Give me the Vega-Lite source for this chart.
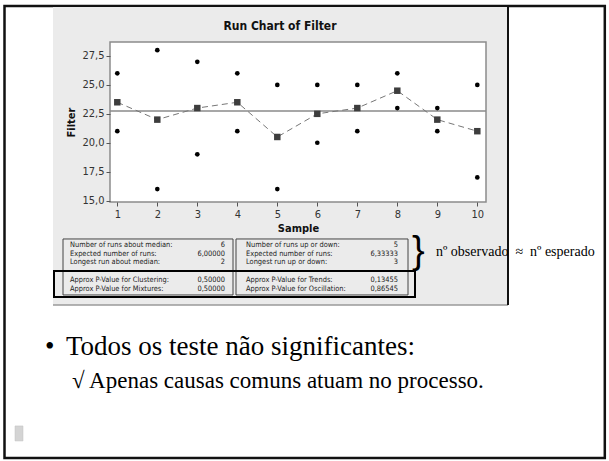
{
  "$schema": "https://vega.github.io/schema/vega-lite/v6.json",
  "autosize": "none",
  "width": 376,
  "height": 160,
  "padding": {"left": 110, "top": 42, "right": 123, "bottom": 259},
  "background": "white",
  "config": {
    "view": {"stroke": null},
    "axis": {"domain": false, "grid": false, "tickColor": "#555555", "tickSize": 4, "labelFont": "DejaVu Sans Condensed", "labelFontSize": 11, "labelColor": "#333333", "titleFont": "DejaVu Sans Condensed", "titleFontSize": 11, "titleFontWeight": "bold", "titleColor": "#111111", "labelOverlap": false}
  },
  "datasets": {
    "filter": [
      {"Sample": 1, "Filter": 26}, {"Sample": 1, "Filter": 21},
      {"Sample": 2, "Filter": 28}, {"Sample": 2, "Filter": 16},
      {"Sample": 3, "Filter": 27}, {"Sample": 3, "Filter": 19},
      {"Sample": 4, "Filter": 26}, {"Sample": 4, "Filter": 21},
      {"Sample": 5, "Filter": 25}, {"Sample": 5, "Filter": 16},
      {"Sample": 6, "Filter": 25}, {"Sample": 6, "Filter": 20},
      {"Sample": 7, "Filter": 25}, {"Sample": 7, "Filter": 21},
      {"Sample": 8, "Filter": 26}, {"Sample": 8, "Filter": 23},
      {"Sample": 9, "Filter": 23}, {"Sample": 9, "Filter": 21},
      {"Sample": 10, "Filter": 25}, {"Sample": 10, "Filter": 17}
    ],
    "means": [
      {"Sample": 1, "Mean": 23.5}, {"Sample": 2, "Mean": 22}, {"Sample": 3, "Mean": 23},
      {"Sample": 4, "Mean": 23.5}, {"Sample": 5, "Mean": 20.5}, {"Sample": 6, "Mean": 22.5},
      {"Sample": 7, "Mean": 23}, {"Sample": 8, "Mean": 24.5}, {"Sample": 9, "Mean": 22},
      {"Sample": 10, "Mean": 21}
    ],
    "table": [
      {"section": "runs", "box": 1, "row": 1, "label": "Number of runs about median:", "value": "6"},
      {"section": "runs", "box": 1, "row": 2, "label": "Expected number of runs:", "value": "6,00000"},
      {"section": "runs", "box": 1, "row": 3, "label": "Longest run about median:", "value": "2"},
      {"section": "runs", "box": 2, "row": 1, "label": "Number of runs up or down:", "value": "5"},
      {"section": "runs", "box": 2, "row": 2, "label": "Expected number of runs:", "value": "6,33333"},
      {"section": "runs", "box": 2, "row": 3, "label": "Longest run up or down:", "value": "3"},
      {"section": "pvalues", "box": 1, "row": 1, "label": "Approx P-Value for Clustering:", "value": "0,50000"},
      {"section": "pvalues", "box": 1, "row": 2, "label": "Approx P-Value for Mixtures:", "value": "0,50000"},
      {"section": "pvalues", "box": 2, "row": 1, "label": "Approx P-Value for Trends:", "value": "0,13455"},
      {"section": "pvalues", "box": 2, "row": 2, "label": "Approx P-Value for Oscillation:", "value": "0,86545"}
    ]
  },
  "layer": [
    {
      "layer": [
        {
          "data": {"values": [{}]},
          "mark": {"type": "rect", "fill": null, "stroke": "#111111", "strokeWidth": 2.5},
          "encoding": {
            "x": {"datum": -1.82, "type": "quantitative", "scale": {"domain": [0.8175, 10.2175]}, "axis": {"values": [1, 2, 3, 4, 5, 6, 7, 8, 9, 10], "format": "d", "labelPadding": 2, "titlePadding": 3, "title": "Sample", "zindex": 2, "labelOverlap": false}},
            "x2": {"datum": 13.1875},
            "y": {"datum": 31.82, "type": "quantitative", "scale": {"domain": [14.879, 28.71]}, "axis": {"values": [15, 17.5, 20, 22.5, 25, 27.5], "labelExpr": "replace(format(datum.value, '.1f'), '.', ',')", "labelPadding": 2, "titlePadding": 5, "title": "Filter", "zindex": 2, "labelOverlap": false}},
            "y2": {"datum": -7.245}
          }
        },
        {
          "data": {"values": [{}]},
          "mark": {"type": "rect", "fill": "#ebebeb"},
          "encoding": {
            "x": {"datum": -0.6075, "type": "quantitative", "scale": {"domain": [0.8175, 10.2175]}, "axis": {"values": [1, 2, 3, 4, 5, 6, 7, 8, 9, 10], "format": "d", "labelPadding": 2, "titlePadding": 3, "title": "Sample", "zindex": 2, "labelOverlap": false}},
            "x2": {"datum": 10.7675},
            "y": {"datum": 31.735, "type": "quantitative", "scale": {"domain": [14.879, 28.71]}, "axis": {"values": [15, 17.5, 20, 22.5, 25, 27.5], "labelExpr": "replace(format(datum.value, '.1f'), '.', ',')", "labelPadding": 2, "titlePadding": 5, "title": "Filter", "zindex": 2, "labelOverlap": false}},
            "y2": {"datum": 5.979}
          }
        },
        {
          "data": {"values": [{}]},
          "mark": {"type": "rule", "color": "#9a9a9a", "strokeWidth": 1.5},
          "encoding": {
            "x": {"datum": -0.6075, "type": "quantitative", "scale": {"domain": [0.8175, 10.2175]}, "axis": {"values": [1, 2, 3, 4, 5, 6, 7, 8, 9, 10], "format": "d", "labelPadding": 2, "titlePadding": 3, "title": "Sample", "zindex": 2, "labelOverlap": false}},
            "x2": {"datum": 10.7675},
            "y": {"datum": 5.979, "type": "quantitative", "scale": {"domain": [14.879, 28.71]}, "axis": {"values": [15, 17.5, 20, 22.5, 25, 27.5], "labelExpr": "replace(format(datum.value, '.1f'), '.', ',')", "labelPadding": 2, "titlePadding": 5, "title": "Filter", "zindex": 2, "labelOverlap": false}}
          }
        },
        {
          "data": {"values": [{}]},
          "mark": {"type": "rule", "color": "#111111", "strokeWidth": 2},
          "encoding": {
            "x": {"datum": 10.7675, "type": "quantitative", "scale": {"domain": [0.8175, 10.2175]}, "axis": {"values": [1, 2, 3, 4, 5, 6, 7, 8, 9, 10], "format": "d", "labelPadding": 2, "titlePadding": 3, "title": "Sample", "zindex": 2, "labelOverlap": false}},
            "y": {"datum": 31.735, "type": "quantitative", "scale": {"domain": [14.879, 28.71]}, "axis": {"values": [15, 17.5, 20, 22.5, 25, 27.5], "labelExpr": "replace(format(datum.value, '.1f'), '.', ',')", "labelPadding": 2, "titlePadding": 5, "title": "Filter", "zindex": 2, "labelOverlap": false}},
            "y2": {"datum": 5.979}
          }
        },
        {
          "data": {"values": [{}]},
          "mark": {"type": "rect", "fill": "white", "stroke": "#8c8c8c", "strokeWidth": 1.5},
          "encoding": {
            "x": {"datum": 0.8175, "type": "quantitative", "scale": {"domain": [0.8175, 10.2175]}, "axis": {"values": [1, 2, 3, 4, 5, 6, 7, 8, 9, 10], "format": "d", "labelPadding": 2, "titlePadding": 3, "title": "Sample", "zindex": 2, "labelOverlap": false}},
            "x2": {"datum": 10.2175},
            "y": {"datum": 14.879, "type": "quantitative", "scale": {"domain": [14.879, 28.71]}, "axis": {"values": [15, 17.5, 20, 22.5, 25, 27.5], "labelExpr": "replace(format(datum.value, '.1f'), '.', ',')", "labelPadding": 2, "titlePadding": 5, "title": "Filter", "zindex": 2, "labelOverlap": false}},
            "y2": {"datum": 28.71}
          }
        },
        {
          "data": {"values": [{}]},
          "mark": {"type": "rule", "color": "#8a8a8a", "strokeWidth": 1.5},
          "encoding": {
            "y": {"datum": 22.75, "type": "quantitative", "scale": {"domain": [14.879, 28.71]}, "axis": {"values": [15, 17.5, 20, 22.5, 25, 27.5], "labelExpr": "replace(format(datum.value, '.1f'), '.', ',')", "labelPadding": 2, "titlePadding": 5, "title": "Filter", "zindex": 2, "labelOverlap": false}}
          }
        },
        {
          "data": {"name": "means"},
          "mark": {"type": "line", "color": "#777777", "strokeWidth": 1, "strokeDash": [6, 4]},
          "encoding": {
            "x": {"field": "Sample", "type": "quantitative", "scale": {"domain": [0.8175, 10.2175]}, "axis": {"values": [1, 2, 3, 4, 5, 6, 7, 8, 9, 10], "format": "d", "labelPadding": 2, "titlePadding": 3, "title": "Sample", "zindex": 2, "labelOverlap": false}},
            "y": {"field": "Mean", "type": "quantitative", "scale": {"domain": [14.879, 28.71]}, "axis": {"values": [15, 17.5, 20, 22.5, 25, 27.5], "labelExpr": "replace(format(datum.value, '.1f'), '.', ',')", "labelPadding": 2, "titlePadding": 5, "title": "Filter", "zindex": 2, "labelOverlap": false}}
          }
        },
        {
          "data": {"name": "means"},
          "mark": {"type": "square", "color": "#3d3d3d", "opacity": 1, "size": 42},
          "encoding": {
            "x": {"field": "Sample", "type": "quantitative", "scale": {"domain": [0.8175, 10.2175]}, "axis": {"values": [1, 2, 3, 4, 5, 6, 7, 8, 9, 10], "format": "d", "labelPadding": 2, "titlePadding": 3, "title": "Sample", "zindex": 2, "labelOverlap": false}},
            "y": {"field": "Mean", "type": "quantitative", "scale": {"domain": [14.879, 28.71]}, "axis": {"values": [15, 17.5, 20, 22.5, 25, 27.5], "labelExpr": "replace(format(datum.value, '.1f'), '.', ',')", "labelPadding": 2, "titlePadding": 5, "title": "Filter", "zindex": 2, "labelOverlap": false}}
          }
        },
        {
          "data": {"name": "filter"},
          "mark": {"type": "circle", "color": "#000000", "opacity": 1, "size": 22},
          "encoding": {
            "x": {"field": "Sample", "type": "quantitative", "scale": {"domain": [0.8175, 10.2175]}, "axis": {"values": [1, 2, 3, 4, 5, 6, 7, 8, 9, 10], "format": "d", "labelPadding": 2, "titlePadding": 3, "title": "Sample", "zindex": 2, "labelOverlap": false}},
            "y": {"field": "Filter", "type": "quantitative", "scale": {"domain": [14.879, 28.71]}, "axis": {"values": [15, 17.5, 20, 22.5, 25, 27.5], "labelExpr": "replace(format(datum.value, '.1f'), '.', ',')", "labelPadding": 2, "titlePadding": 5, "title": "Filter", "zindex": 2, "labelOverlap": false}}
          }
        },
        {
          "data": {"values": [{"t": "Run Chart of Filter"}]},
          "mark": {"type": "text", "font": "DejaVu Sans Condensed", "fontSize": 12, "fontWeight": "bold", "color": "#111111", "align": "center", "baseline": "middle"},
          "encoding": {
            "x": {"datum": 5.0675, "type": "quantitative", "scale": {"domain": [0.8175, 10.2175]}, "axis": {"values": [1, 2, 3, 4, 5, 6, 7, 8, 9, 10], "format": "d", "labelPadding": 2, "titlePadding": 3, "title": "Sample", "zindex": 2, "labelOverlap": false}},
            "y": {"datum": 30.093, "type": "quantitative", "scale": {"domain": [14.879, 28.71]}, "axis": {"values": [15, 17.5, 20, 22.5, 25, 27.5], "labelExpr": "replace(format(datum.value, '.1f'), '.', ',')", "labelPadding": 2, "titlePadding": 5, "title": "Filter", "zindex": 2, "labelOverlap": false}},
            "text": {"field": "t"}
          }
        },
        {
          "data": {"values": [{}]},
          "mark": {"type": "rect", "fill": null, "stroke": "#444444", "strokeWidth": 1},
          "encoding": {
            "x": {"datum": -0.3575, "type": "quantitative", "scale": {"domain": [0.8175, 10.2175]}, "axis": {"values": [1, 2, 3, 4, 5, 6, 7, 8, 9, 10], "format": "d", "labelPadding": 2, "titlePadding": 3, "title": "Sample", "zindex": 2, "labelOverlap": false}},
            "x2": {"datum": 3.8925},
            "y": {"datum": 11.683, "type": "quantitative", "scale": {"domain": [14.879, 28.71]}, "axis": {"values": [15, 17.5, 20, 22.5, 25, 27.5], "labelExpr": "replace(format(datum.value, '.1f'), '.', ',')", "labelPadding": 2, "titlePadding": 5, "title": "Filter", "zindex": 2, "labelOverlap": false}},
            "y2": {"datum": 6.843}
          }
        },
        {
          "data": {"values": [{}]},
          "mark": {"type": "rect", "fill": null, "stroke": "#444444", "strokeWidth": 1},
          "encoding": {
            "x": {"datum": 3.9675, "type": "quantitative", "scale": {"domain": [0.8175, 10.2175]}, "axis": {"values": [1, 2, 3, 4, 5, 6, 7, 8, 9, 10], "format": "d", "labelPadding": 2, "titlePadding": 3, "title": "Sample", "zindex": 2, "labelOverlap": false}},
            "x2": {"datum": 8.2675},
            "y": {"datum": 11.683, "type": "quantitative", "scale": {"domain": [14.879, 28.71]}, "axis": {"values": [15, 17.5, 20, 22.5, 25, 27.5], "labelExpr": "replace(format(datum.value, '.1f'), '.', ',')", "labelPadding": 2, "titlePadding": 5, "title": "Filter", "zindex": 2, "labelOverlap": false}},
            "y2": {"datum": 6.843}
          }
        },
        {
          "data": {"values": [{}]},
          "mark": {"type": "rect", "fill": null, "stroke": "#000000", "strokeWidth": 2},
          "encoding": {
            "x": {"datum": -0.5825, "type": "quantitative", "scale": {"domain": [0.8175, 10.2175]}, "axis": {"values": [1, 2, 3, 4, 5, 6, 7, 8, 9, 10], "format": "d", "labelPadding": 2, "titlePadding": 3, "title": "Sample", "zindex": 2, "labelOverlap": false}},
            "x2": {"datum": 8.4425},
            "y": {"datum": 8.917, "type": "quantitative", "scale": {"domain": [14.879, 28.71]}, "axis": {"values": [15, 17.5, 20, 22.5, 25, 27.5], "labelExpr": "replace(format(datum.value, '.1f'), '.', ',')", "labelPadding": 2, "titlePadding": 5, "title": "Filter", "zindex": 2, "labelOverlap": false}},
            "y2": {"datum": 6.67}
          }
        },
        {
          "data": {"values": [{"t": "}"}]},
          "mark": {"type": "text", "font": "Liberation Sans", "fontSize": 38, "color": "#000000", "align": "left", "baseline": "middle"},
          "encoding": {
            "x": {"datum": 8.3675, "type": "quantitative", "scale": {"domain": [0.8175, 10.2175]}, "axis": {"values": [1, 2, 3, 4, 5, 6, 7, 8, 9, 10], "format": "d", "labelPadding": 2, "titlePadding": 3, "title": "Sample", "zindex": 2, "labelOverlap": false}},
            "y": {"datum": 10.557, "type": "quantitative", "scale": {"domain": [14.879, 28.71]}, "axis": {"values": [15, 17.5, 20, 22.5, 25, 27.5], "labelExpr": "replace(format(datum.value, '.1f'), '.', ',')", "labelPadding": 2, "titlePadding": 5, "title": "Filter", "zindex": 2, "labelOverlap": false}},
            "text": {"field": "t"}
          }
        },
        {
          "data": {"values": [{"t": "nº observado\u00a0\u00a0≈\u00a0\u00a0nº esperado"}]},
          "mark": {"type": "text", "font": "Liberation Serif", "fontSize": 14, "color": "#000000", "align": "left", "baseline": "alphabetic"},
          "encoding": {
            "x": {"datum": 8.9675, "type": "quantitative", "scale": {"domain": [0.8175, 10.2175]}, "axis": {"values": [1, 2, 3, 4, 5, 6, 7, 8, 9, 10], "format": "d", "labelPadding": 2, "titlePadding": 3, "title": "Sample", "zindex": 2, "labelOverlap": false}},
            "y": {"datum": 10.211, "type": "quantitative", "scale": {"domain": [14.879, 28.71]}, "axis": {"values": [15, 17.5, 20, 22.5, 25, 27.5], "labelExpr": "replace(format(datum.value, '.1f'), '.', ',')", "labelPadding": 2, "titlePadding": 5, "title": "Filter", "zindex": 2, "labelOverlap": false}},
            "text": {"field": "t"}
          }
        },
        {
          "data": {"values": [{"t": "•"}]},
          "mark": {"type": "text", "font": "Liberation Serif", "fontSize": 27, "color": "#000000", "align": "left", "baseline": "alphabetic"},
          "encoding": {
            "x": {"datum": -0.8075, "type": "quantitative", "scale": {"domain": [0.8175, 10.2175]}, "axis": {"values": [1, 2, 3, 4, 5, 6, 7, 8, 9, 10], "format": "d", "labelPadding": 2, "titlePadding": 3, "title": "Sample", "zindex": 2, "labelOverlap": false}},
            "y": {"datum": 1.653, "type": "quantitative", "scale": {"domain": [14.879, 28.71]}, "axis": {"values": [15, 17.5, 20, 22.5, 25, 27.5], "labelExpr": "replace(format(datum.value, '.1f'), '.', ',')", "labelPadding": 2, "titlePadding": 5, "title": "Filter", "zindex": 2, "labelOverlap": false}},
            "text": {"field": "t"}
          }
        },
        {
          "data": {"values": [{"t": "Todos os teste não significantes:"}]},
          "mark": {"type": "text", "font": "Liberation Serif", "fontSize": 27, "color": "#000000", "align": "left", "baseline": "alphabetic"},
          "encoding": {
            "x": {"datum": -0.2825, "type": "quantitative", "scale": {"domain": [0.8175, 10.2175]}, "axis": {"values": [1, 2, 3, 4, 5, 6, 7, 8, 9, 10], "format": "d", "labelPadding": 2, "titlePadding": 3, "title": "Sample", "zindex": 2, "labelOverlap": false}},
            "y": {"datum": 1.653, "type": "quantitative", "scale": {"domain": [14.879, 28.71]}, "axis": {"values": [15, 17.5, 20, 22.5, 25, 27.5], "labelExpr": "replace(format(datum.value, '.1f'), '.', ',')", "labelPadding": 2, "titlePadding": 5, "title": "Filter", "zindex": 2, "labelOverlap": false}},
            "text": {"field": "t"}
          }
        },
        {
          "data": {"values": [{"t": "√ Apenas causas comuns atuam no processo."}]},
          "mark": {"type": "text", "font": "Liberation Serif", "fontSize": 23, "color": "#000000", "align": "left", "baseline": "alphabetic"},
          "encoding": {
            "x": {"datum": -0.1325, "type": "quantitative", "scale": {"domain": [0.8175, 10.2175]}, "axis": {"values": [1, 2, 3, 4, 5, 6, 7, 8, 9, 10], "format": "d", "labelPadding": 2, "titlePadding": 3, "title": "Sample", "zindex": 2, "labelOverlap": false}},
            "y": {"datum": -1.2, "type": "quantitative", "scale": {"domain": [14.879, 28.71]}, "axis": {"values": [15, 17.5, 20, 22.5, 25, 27.5], "labelExpr": "replace(format(datum.value, '.1f'), '.', ',')", "labelPadding": 2, "titlePadding": 5, "title": "Filter", "zindex": 2, "labelOverlap": false}},
            "text": {"field": "t"}
          }
        },
        {
          "data": {"values": [{}]},
          "mark": {"type": "rect", "fill": "#d4d4d4", "stroke": "#c0c0c0", "strokeWidth": 0.5},
          "encoding": {
            "x": {"datum": -1.5575, "type": "quantitative", "scale": {"domain": [0.8175, 10.2175]}, "axis": {"values": [1, 2, 3, 4, 5, 6, 7, 8, 9, 10], "format": "d", "labelPadding": 2, "titlePadding": 3, "title": "Sample", "zindex": 2, "labelOverlap": false}},
            "x2": {"datum": -1.3575},
            "y": {"datum": -4.479, "type": "quantitative", "scale": {"domain": [14.879, 28.71]}, "axis": {"values": [15, 17.5, 20, 22.5, 25, 27.5], "labelExpr": "replace(format(datum.value, '.1f'), '.', ',')", "labelPadding": 2, "titlePadding": 5, "title": "Filter", "zindex": 2, "labelOverlap": false}},
            "y2": {"datum": -5.776}
          }
        }
      ]
    },
    {
      "data": {"name": "table"},
      "transform": [{"filter": "datum.section == 'runs'"}],
      "layer": [
        {
          "transform": [{"filter": "datum.box == 1"}],
          "mark": {"type": "text", "font": "DejaVu Sans Condensed", "fontSize": 7.4, "color": "#222222", "align": "left", "baseline": "middle"},
          "encoding": {
            "x": {"datum": -0.1825, "type": "quantitative", "scale": {"domain": [0.8175, 10.2175]}, "axis": {"values": [1, 2, 3, 4, 5, 6, 7, 8, 9, 10], "format": "d", "labelPadding": 2, "titlePadding": 3, "title": "Sample", "zindex": 2, "labelOverlap": false}},
            "y": {"field": "row", "type": "quantitative", "scale": {"domain": [-22.882, -4.059], "reverse": true}, "axis": null},
            "text": {"field": "label"}
          }
        },
        {
          "transform": [{"filter": "datum.box == 1"}],
          "mark": {"type": "text", "font": "DejaVu Sans Condensed", "fontSize": 7.4, "color": "#222222", "align": "right", "baseline": "middle"},
          "encoding": {
            "x": {"datum": 3.6925, "type": "quantitative", "scale": {"domain": [0.8175, 10.2175]}, "axis": {"values": [1, 2, 3, 4, 5, 6, 7, 8, 9, 10], "format": "d", "labelPadding": 2, "titlePadding": 3, "title": "Sample", "zindex": 2, "labelOverlap": false}},
            "y": {"field": "row", "type": "quantitative", "scale": {"domain": [-22.882, -4.059], "reverse": true}, "axis": null},
            "text": {"field": "value"}
          }
        },
        {
          "transform": [{"filter": "datum.box == 2"}],
          "mark": {"type": "text", "font": "DejaVu Sans Condensed", "fontSize": 7.4, "color": "#222222", "align": "left", "baseline": "middle"},
          "encoding": {
            "x": {"datum": 4.2175, "type": "quantitative", "scale": {"domain": [0.8175, 10.2175]}, "axis": {"values": [1, 2, 3, 4, 5, 6, 7, 8, 9, 10], "format": "d", "labelPadding": 2, "titlePadding": 3, "title": "Sample", "zindex": 2, "labelOverlap": false}},
            "y": {"field": "row", "type": "quantitative", "scale": {"domain": [-22.882, -4.059], "reverse": true}, "axis": null},
            "text": {"field": "label"}
          }
        },
        {
          "transform": [{"filter": "datum.box == 2"}],
          "mark": {"type": "text", "font": "DejaVu Sans Condensed", "fontSize": 7.4, "color": "#222222", "align": "right", "baseline": "middle"},
          "encoding": {
            "x": {"datum": 8.0175, "type": "quantitative", "scale": {"domain": [0.8175, 10.2175]}, "axis": {"values": [1, 2, 3, 4, 5, 6, 7, 8, 9, 10], "format": "d", "labelPadding": 2, "titlePadding": 3, "title": "Sample", "zindex": 2, "labelOverlap": false}},
            "y": {"field": "row", "type": "quantitative", "scale": {"domain": [-22.882, -4.059], "reverse": true}, "axis": null},
            "text": {"field": "value"}
          }
        }
      ]
    },
    {
      "data": {"name": "table"},
      "transform": [{"filter": "datum.section == 'pvalues'"}],
      "layer": [
        {
          "transform": [{"filter": "datum.box == 1"}],
          "mark": {"type": "text", "font": "DejaVu Sans Condensed", "fontSize": 7.4, "color": "#222222", "align": "left", "baseline": "middle"},
          "encoding": {
            "x": {"datum": -0.1825, "type": "quantitative", "scale": {"domain": [0.8175, 10.2175]}, "axis": {"values": [1, 2, 3, 4, 5, 6, 7, 8, 9, 10], "format": "d", "labelPadding": 2, "titlePadding": 3, "title": "Sample", "zindex": 2, "labelOverlap": false}},
            "y": {"field": "row", "type": "quantitative", "scale": {"domain": [-25.444, -7.667], "reverse": true}, "axis": null},
            "text": {"field": "label"}
          }
        },
        {
          "transform": [{"filter": "datum.box == 1"}],
          "mark": {"type": "text", "font": "DejaVu Sans Condensed", "fontSize": 7.4, "color": "#222222", "align": "right", "baseline": "middle"},
          "encoding": {
            "x": {"datum": 3.6925, "type": "quantitative", "scale": {"domain": [0.8175, 10.2175]}, "axis": {"values": [1, 2, 3, 4, 5, 6, 7, 8, 9, 10], "format": "d", "labelPadding": 2, "titlePadding": 3, "title": "Sample", "zindex": 2, "labelOverlap": false}},
            "y": {"field": "row", "type": "quantitative", "scale": {"domain": [-25.444, -7.667], "reverse": true}, "axis": null},
            "text": {"field": "value"}
          }
        },
        {
          "transform": [{"filter": "datum.box == 2"}],
          "mark": {"type": "text", "font": "DejaVu Sans Condensed", "fontSize": 7.4, "color": "#222222", "align": "left", "baseline": "middle"},
          "encoding": {
            "x": {"datum": 4.2175, "type": "quantitative", "scale": {"domain": [0.8175, 10.2175]}, "axis": {"values": [1, 2, 3, 4, 5, 6, 7, 8, 9, 10], "format": "d", "labelPadding": 2, "titlePadding": 3, "title": "Sample", "zindex": 2, "labelOverlap": false}},
            "y": {"field": "row", "type": "quantitative", "scale": {"domain": [-25.444, -7.667], "reverse": true}, "axis": null},
            "text": {"field": "label"}
          }
        },
        {
          "transform": [{"filter": "datum.box == 2"}],
          "mark": {"type": "text", "font": "DejaVu Sans Condensed", "fontSize": 7.4, "color": "#222222", "align": "right", "baseline": "middle"},
          "encoding": {
            "x": {"datum": 8.0175, "type": "quantitative", "scale": {"domain": [0.8175, 10.2175]}, "axis": {"values": [1, 2, 3, 4, 5, 6, 7, 8, 9, 10], "format": "d", "labelPadding": 2, "titlePadding": 3, "title": "Sample", "zindex": 2, "labelOverlap": false}},
            "y": {"field": "row", "type": "quantitative", "scale": {"domain": [-25.444, -7.667], "reverse": true}, "axis": null},
            "text": {"field": "value"}
          }
        }
      ]
    }
  ],
  "resolve": {"scale": {"y": "independent"}, "axis": {"y": "independent"}}
}
